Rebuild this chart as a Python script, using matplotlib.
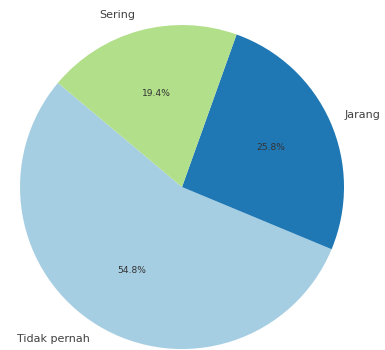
import matplotlib
matplotlib.use("Agg")
import matplotlib.pyplot as plt

# Frekuensi jawaban (17 / 8 / 6 responden)
categories = ["Tidak pernah", "Jarang", "Sering"]
counts = [17, 8, 6]
colors = ["#a6cee3", "#1f78b4", "#b2df8a"]

fig = plt.figure(figsize=(3.85, 3.5), dpi=100)
# square axes in pixels so the pie stays round; it spills a little past the edges
ax = fig.add_axes([-0.0532, -0.1129, 1.0519, 1.1571])

wedges, texts, autotexts = ax.pie(
    counts,
    labels=categories,
    colors=colors,
    autopct="%1.1f%%",
    startangle=140,
    textprops={"fontsize": 8, "color": "#404040"},
)
for t in autotexts:
    t.set_fontsize(6.6)
    t.set_color("#333333")

ax.set_xlim(-1.25, 1.25)
ax.set_ylim(-1.25, 1.25)
ax.axis("off")

fig.savefig("out.png", dpi=100)
